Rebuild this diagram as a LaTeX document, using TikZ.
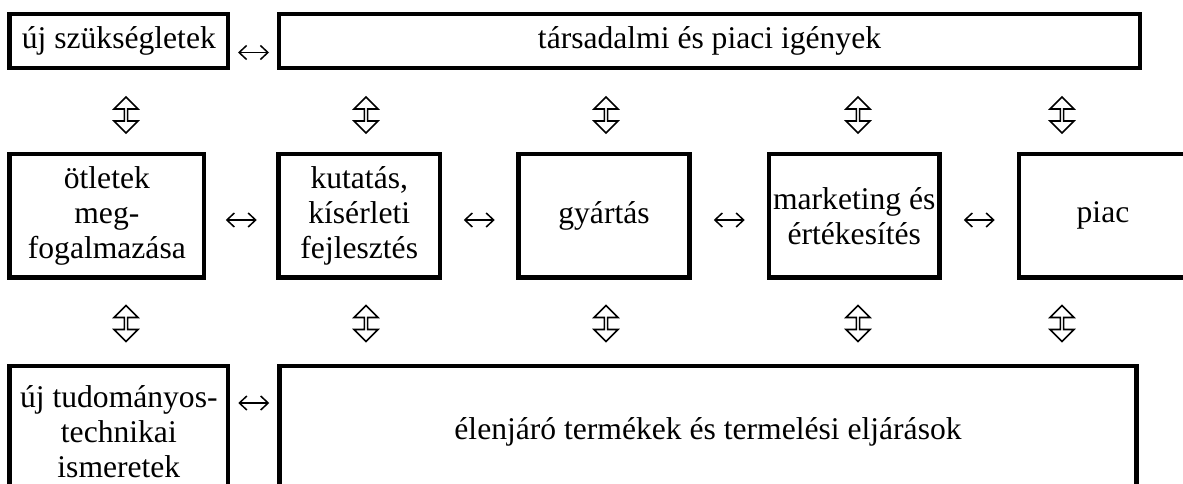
\documentclass[tikz,border=0pt]{standalone}
\usepackage{fontspec}
\setmainfont{Liberation Serif}
\usetikzlibrary{arrows.meta,shapes.arrows,calc}
\begin{document}
\begin{tikzpicture}[x=1pt,y=-1pt,
  box/.style={draw, line width=4.8pt, inner sep=0pt, outer sep=0pt, align=center,
    font=\fontsize{31.6}{35}\selectfont},
  lr/.style={{Straight Barb[length=7.5pt,width=14pt]}-{Straight Barb[length=7.5pt,width=14pt]}, line width=1.5pt},
  updown/.style={shape=double arrow, rotate=90, draw, line width=1.6pt, fill=white,
    minimum height=36pt, minimum width=24pt, inner sep=0pt,
    double arrow head extend=5pt, double arrow head indent=0pt}]
\fill[white] (0,0) rectangle (1183,484);
\useasboundingbox (0,0) rectangle (1183,484);
% top row
\node[box, minimum width=218.3pt, minimum height=54pt] (A) at (118.85,41) {új szükségletek};
\node[box, minimum width=861pt, minimum height=54pt] (B) at (709.5,41) {társadalmi és piaci igények};
% middle row
\node[box, minimum width=194.3pt, minimum height=123.5pt] (M1) at (106.85,215.75) {ötletek\\meg-\\fogalmazása};
\node[box, minimum width=161.5pt, minimum height=123.5pt] (M2) at (359.25,215.75) {kutatás,\\kísérleti\\fejlesztés};
\node[box, minimum width=171pt, minimum height=123.5pt] (M3) at (604,215.75) {gyártás};
\node[box, minimum width=170.5pt, minimum height=123.5pt] (M4) at (854.25,215.75) {marketing és\\értékesítés};
\node[box, minimum width=168pt, minimum height=123.5pt] (M5) at (1103,215.75) {piac};
% bottom row
\node[box, minimum width=218.3pt, minimum height=132pt] (C) at (118.85,432) {új tudományos-\\technikai\\ismeretek};
\node[box, minimum width=857pt, minimum height=132pt] (D) at (708,432) {élenjáró termékek és termelési eljárások};
% horizontal connectors
\draw[lr, shorten <=10pt, shorten >=10pt] ([yshift=-11.5pt]A.east) -- ([yshift=-11.5pt]B.west);
\draw[lr, shorten <=21.75pt, shorten >=21.75pt] ([yshift=-4.25pt]M1.east) -- ([yshift=-4.25pt]M2.west);
\draw[lr, shorten <=23.75pt, shorten >=23.75pt] ([yshift=-4.25pt]M2.east) -- ([yshift=-4.25pt]M3.west);
\draw[lr, shorten <=24.25pt, shorten >=24.25pt] ([yshift=-4.25pt]M3.east) -- ([yshift=-4.25pt]M4.west);
\draw[lr, shorten <=24.25pt, shorten >=24.25pt] ([yshift=-4.25pt]M4.east) -- ([yshift=-4.25pt]M5.west);
\draw[lr, shorten <=10.25pt, shorten >=10.25pt] ([yshift=29pt]C.east) -- ([yshift=29pt]D.west);
% vertical double arrows
\node[updown] (u1) at (126,115) {};
\node[updown] (u2) at (366,115) {};
\node[updown] (u3) at (606,115) {};
\node[updown] (u4) at (858,115) {};
\node[updown] (u5) at (1062,115) {};
\node[updown] (d1) at (126,323.5) {};
\node[updown] (d2) at (366,323.5) {};
\node[updown] (d3) at (606,323.5) {};
\node[updown] (d4) at (858,323.5) {};
\node[updown] (d5) at (1062,323.5) {};
\end{tikzpicture}
\end{document}
